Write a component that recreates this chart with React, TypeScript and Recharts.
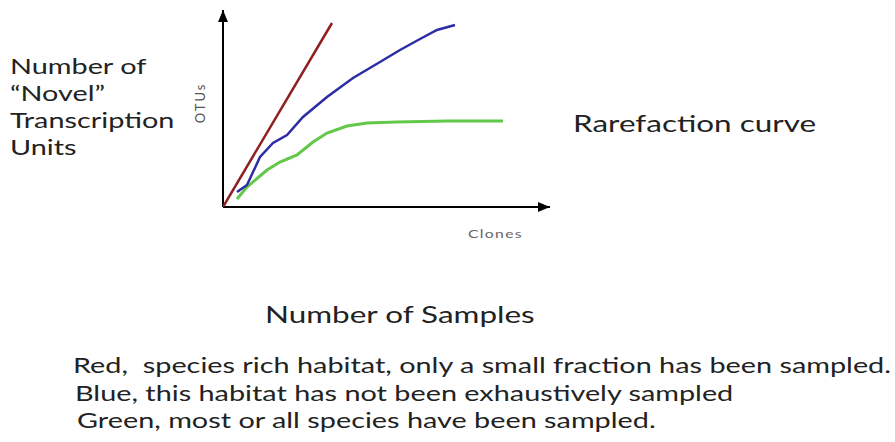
import { LineChart, Line, XAxis, YAxis, ReferenceDot, ReferenceLine } from "recharts";

// clones (x) vs OTUs (y)
const redClones = [0, 109];
const redOtus = [0, 184];
const blueClones = [14, 24, 37, 50, 64, 80, 104, 130, 157, 177, 197, 214, 232];
const blueOtus = [15, 22, 50, 64, 72, 90, 110, 129, 145, 157, 168, 177, 182];
const greenClones = [14, 24, 44, 57, 74, 90, 104, 124, 144, 174, 224, 280];
const greenOtus = [8, 20, 37, 45, 52, 65, 74, 81, 84, 85, 86, 86];

const xMax = 327;
const yMax = 197;

const notes = [
  "Red,  species rich habitat, only a small fraction has been sampled.",
  "Blue, this habitat has not been exhaustively sampled",
  "Green, most or all species have been sampled.",
];

const toPoints = (xs: number[], ys: number[]) =>
  xs.map((clones, i) => ({ clones, otus: ys[i] }));

const font = "Lato, 'Open Sans', sans-serif";
// the source image is stretched sideways
const stretch = "scaleX(1.31)";

const RightArrow = (p: any) => (
  <polygon
    points={`${p.cx},${p.cy} ${p.cx - 12},${p.cy - 5} ${p.cx - 12},${p.cy + 5}`}
    fill="#000"
  />
);
const UpArrow = (p: any) => (
  <polygon
    points={`${p.cx},${p.cy} ${p.cx - 5},${p.cy + 12} ${p.cx + 5},${p.cy + 12}`}
    fill="#000"
  />
);

const textAt = (left: number, top: number, size: number) => ({
  position: "absolute" as const,
  left,
  top,
  fontSize: size,
  transform: stretch,
  transformOrigin: "left top",
  whiteSpace: "pre" as const,
});

export default function App() {
  return (
    <div
      style={{
        position: "absolute",
        left: 0,
        top: 0,
        width: 895,
        height: 442,
        background: "#fff",
        fontFamily: font,
        color: "#222",
      }}
    >
      <LineChart
        width={895}
        height={442}
        margin={{ top: 10, left: 223, right: 345, bottom: 235 }}
      >
        <XAxis
          type="number"
          dataKey="clones"
          domain={[0, xMax]}
          height={0}
          tick={false}
          tickLine={false}
          axisLine={false}
          allowDataOverflow
        />
        <YAxis
          type="number"
          dataKey="otus"
          domain={[0, yMax]}
          width={0}
          tick={false}
          tickLine={false}
          axisLine={false}
          allowDataOverflow
        />
        <ReferenceLine y={0} stroke="#000" strokeWidth={2} ifOverflow="visible" />
        <ReferenceLine x={0} stroke="#000" strokeWidth={2} ifOverflow="visible" />
        <Line
          data={toPoints(greenClones, greenOtus)}
          dataKey="otus"
          stroke="#62c84a"
          strokeWidth={3}
          dot={false}
          type="linear"
          isAnimationActive={false}
        />
        <Line
          data={toPoints(blueClones, blueOtus)}
          dataKey="otus"
          stroke="#2c2ca4"
          strokeWidth={2.5}
          dot={false}
          type="linear"
          isAnimationActive={false}
        />
        <Line
          data={toPoints(redClones, redOtus)}
          dataKey="otus"
          stroke="#8e2020"
          strokeWidth={2.5}
          dot={false}
          type="linear"
          isAnimationActive={false}
        />
        <ReferenceDot x={xMax} y={0} r={0} ifOverflow="visible" shape={RightArrow} />
        <ReferenceDot x={0} y={yMax} r={0} ifOverflow="visible" shape={UpArrow} />
      </LineChart>

      <div style={{ ...textAt(10, 52, 22), lineHeight: "27px" }}>
        Number of
        <br />
        “Novel”
        <br />
        Transcription
        <br />
        Units
      </div>
      <div
        style={{
          position: "absolute",
          left: 200,
          top: 103,
          transform: "translate(-50%, -50%) rotate(-90deg)",
          fontSize: 13,
          letterSpacing: 2,
          color: "#555",
        }}
      >
        OTUs
      </div>
      <div style={{ ...textAt(468, 226, 12), color: "#666", letterSpacing: 1 }}>
        Clones
      </div>
      <div style={textAt(573, 108, 24)}>Rarefaction curve</div>
      <div style={textAt(265, 299, 24)}>Number of Samples</div>
      {notes.map((t, i) => (
        <div key={i} style={textAt(73 + i * 2, 351 + i * 27.5, 22)}>
          {t}
        </div>
      ))}
    </div>
  );
}
